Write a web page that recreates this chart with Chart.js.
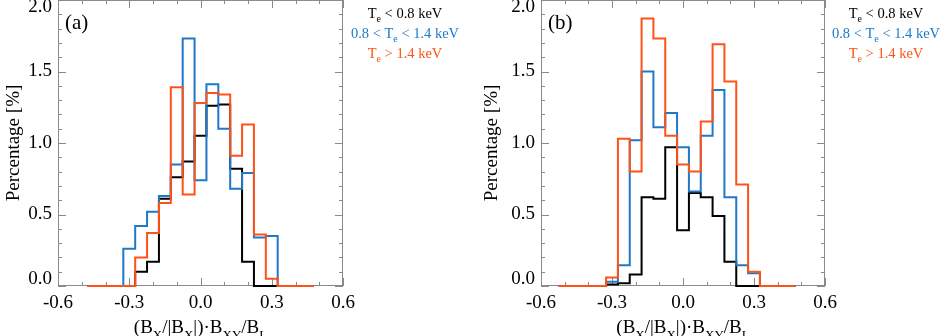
<!DOCTYPE html>
<html>
<head>
<meta charset="utf-8">
<script src="https://cdn.jsdelivr.net/npm/chart.js@4.4.1/dist/chart.umd.min.js"></script>
<style>
    html, body { margin: 0; padding: 0; background: #fff; }
    #wrap { position: relative; width: 941px; height: 336px; overflow: hidden; }
    canvas { position: absolute; top: 0; }
</style>
</head>
<body>
<div id="wrap">
    <canvas id="chartA" width="470" height="336" style="left:0;width:470px;height:336px"></canvas>
    <canvas id="chartB" width="471" height="336" style="left:470px;width:471px;height:336px"></canvas>
</div>
<script>
//======================[data]======================
const binWidth = 0.05;

// panel (a)
const binsA = [-0.45, -0.4, -0.35, -0.3, -0.25, -0.2, -0.15, -0.1, -0.05, 0.0, 0.05, 0.1, 0.15, 0.2, 0.25, 0.3, 0.35, 0.4, 0.45];
const blackA = [0, 0, 0, 0, 0.10, 0.17, 0.61, 0.76, 0.87, 1.05, 1.26, 1.27, 0.82, 0.17, 0, 0, 0, 0, 0];
const blueA = [0, 0, 0, 0.26, 0.42, 0.52, 0.63, 0.85, 1.73, 0.74, 1.41, 1.10, 0.68, 0.79, 0.34, 0.35, 0, 0, 0];
const orangeA = [0, 0, 0, 0, 0.20, 0.37, 0.58, 1.39, 0.64, 1.28, 1.35, 1.34, 0.91, 1.13, 0.36, 0.05, 0, 0, 0];

// panel (b)
const binsB = [-0.5, -0.45, -0.4, -0.35, -0.3, -0.25, -0.2, -0.15, -0.1, -0.05, 0.0, 0.05, 0.1, 0.15, 0.2, 0.25, 0.3, 0.35, 0.4, 0.45];
const blackB = [0, 0, 0, 0, 0.01, 0.02, 0.08, 0.62, 0.61, 0.97, 0.39, 0.65, 0.62, 0.49, 0.17, 0, 0, 0, 0, 0];
const blueB = [0, 0, 0, 0, 0.03, 0.145, 1.02, 1.50, 1.11, 1.21, 0.97, 0.66, 1.05, 1.37, 0.62, 0.145, 0.09, 0, 0, 0];
const orangeB = [0, 0, 0, 0, 0.06, 1.03, 0.80, 1.87, 1.73, 1.05, 0.85, 0.80, 1.15, 1.69, 1.43, 0.71, 0.10, 0, 0, 0];

const xTickLabels = [-0.6, -0.3, 0.0, 0.3, 0.6];
const yTickLabels = [0.0, 0.5, 1.0, 1.5, 2.0];
const yTitle = "Percentage [%]";
// [text, isSubscript]
const xTitle = [["(B", 0], ["X", 1], ["/|B", 0], ["X", 1], ["|)·B", 0], ["XY", 1], ["/B", 0], ["L", 1]];
const legendLabels = [
    [["T", 0], ["e", 1], [" < 0.8 keV", 0]],
    [["0.8 < T", 0], ["e", 1], [" < 1.4 keV", 0]],
    [["T", 0], ["e", 1], [" > 1.4 keV", 0]],
];

const COLORS = { black: "#000000", blue: "#1f78c8", orange: "#ff5218", frame: "#8a8a8a" };
const FONT = '"Liberation Serif", "DejaVu Serif", serif';

Chart.defaults.font.family = FONT;

//======================[helpers]======================
function toSteps(bins, values) {
    const pts = bins.map((c, i) => ({ x: c - binWidth / 2, y: values[i] }));
    pts.push({ x: bins[bins.length - 1] + binWidth / 2, y: values[values.length - 1] });
    return pts;
}

function drawRich(ctx, parts, x, y, size, color) {
    const mainFont = `${size}px ${FONT}`;
    const subFont = `${Math.round(size * 0.68)}px ${FONT}`;
    let total = 0;
    parts.forEach(([t, sub]) => {
        ctx.font = sub ? subFont : mainFont;
        total += ctx.measureText(t).width;
    });
    let cx = x - total / 2;
    ctx.fillStyle = color;
    ctx.textAlign = "left";
    ctx.textBaseline = "alphabetic";
    parts.forEach(([t, sub]) => {
        ctx.font = sub ? subFont : mainFont;
        ctx.fillText(t, cx, sub ? y + size * 0.3 : y);
        cx += ctx.measureText(t).width;
    });
}

// frame with inward ticks on all four sides
const framePlugin = {
    id: "frame",
    beforeDatasetsDraw(chart) {
        const { ctx, chartArea: a, scales } = chart;
        const x = scales.x, y = scales.y;
        ctx.save();
        ctx.strokeStyle = COLORS.frame;
        ctx.lineWidth = 1;
        ctx.strokeRect(a.left + 0.5, a.top + 0.5, a.right - a.left - 1, a.bottom - a.top - 1);
        ctx.beginPath();
        for (let i = -6; i <= 6; i++) {
            const px = Math.round(x.getPixelForValue(i / 10)) + 0.5;
            const len = i % 3 === 0 ? 8 : 4;
            ctx.moveTo(px, a.bottom); ctx.lineTo(px, a.bottom - len);
            ctx.moveTo(px, a.top); ctx.lineTo(px, a.top + len);
        }
        for (let i = 0; i <= 20; i++) {
            const py = Math.round(y.getPixelForValue(i / 10)) + 0.5;
            const len = i % 5 === 0 ? 8 : 4;
            ctx.moveTo(a.left, py); ctx.lineTo(a.left + len, py);
            ctx.moveTo(a.right, py); ctx.lineTo(a.right - len, py);
        }
        ctx.stroke();
        ctx.restore();
    },
    afterDraw(chart, args, opts) {
        const { ctx, chartArea: a, scales } = chart;
        ctx.save();
        ctx.fillStyle = "#000";
        ctx.font = `19px ${FONT}`;
        // x tick labels
        ctx.textAlign = "center";
        ctx.textBaseline = "alphabetic";
        xTickLabels.forEach((v) => {
            ctx.fillText(v.toFixed(1), scales.x.getPixelForValue(v), 308);
        });
        // y tick labels
        ctx.textAlign = "right";
        ctx.textBaseline = "middle";
        yTickLabels.forEach((v) => {
            let py = scales.y.getPixelForValue(v);
            py = Math.min(Math.max(py, a.top + 7), a.bottom - 7);
            ctx.fillText(v.toFixed(1), a.left - 6, py);
        });
        // y title
        ctx.save();
        ctx.translate(opts.yTitleX, (a.top + a.bottom) / 2);
        ctx.rotate(-Math.PI / 2);
        ctx.textAlign = "center";
        ctx.textBaseline = "middle";
        ctx.fillText(yTitle, 0, 0);
        ctx.restore();
        // x title
        drawRich(ctx, xTitle, scales.x.getPixelForValue(0), 333, 19, "#000");
        // panel label
        ctx.font = `21px ${FONT}`;
        ctx.textAlign = "left";
        ctx.textBaseline = "alphabetic";
        ctx.fillStyle = "#000";
        ctx.fillText(opts.label, a.left + 7, 29);
        // legend
        const legendColors = [COLORS.black, COLORS.blue, COLORS.orange];
        legendLabels.forEach((parts, i) => {
            drawRich(ctx, parts, opts.legendX, 18 + i * 20, 14.5, legendColors[i]);
        });
        ctx.restore();
    },
};

function makePanel(canvasId, bins, black, blue, orange, padding, opts) {
    const mk = (values, color, order) => ({
        data: toSteps(bins, values),
        borderColor: color,
        borderWidth: 2,
        stepped: true,
        pointRadius: 0,
        fill: false,
        clip: false,
        order: order,
    });
    return new Chart(document.getElementById(canvasId), {
        type: "line",
        data: {
            datasets: [mk(orange, COLORS.orange, 0), mk(blue, COLORS.blue, 1), mk(black, COLORS.black, 2)],
        },
        options: {
            responsive: false,
            animation: false,
            devicePixelRatio: 1,
            layout: { padding: padding },
            scales: {
                x: { type: "linear", min: -0.6, max: 0.6, display: false },
                y: { type: "linear", min: 0, max: 2.0, display: false },
            },
            plugins: {
                legend: { display: false },
                tooltip: { enabled: false },
                frame: opts,
            },
        },
        plugins: [framePlugin],
    });
}

makePanel("chartA", binsA, blackA, blueA, orangeA,
    { left: 58, right: 127, top: 0, bottom: 50 },
    { label: "(a)", legendX: 405, yTitleX: 14 });
makePanel("chartB", binsB, blackB, blueB, orangeB,
    { left: 71, right: 116, top: 0, bottom: 50 },
    { label: "(b)", legendX: 416, yTitleX: 22 });
</script>
</body>
</html>
